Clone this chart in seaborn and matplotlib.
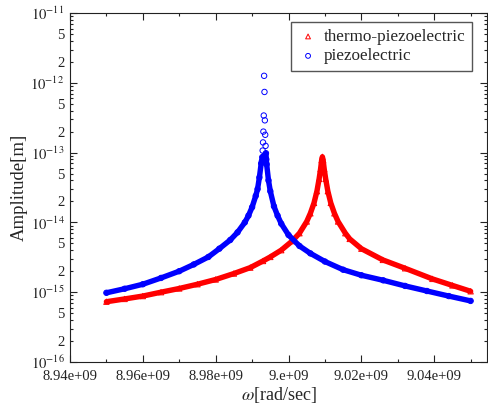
import numpy as np
import pandas as pd
import matplotlib
matplotlib.use("Agg")
import matplotlib.pyplot as plt
import matplotlib.ticker as mticker
import seaborn as sns

# ──────────────────────────────────────────────
# Data
# frequency in units of 1e9 rad/sec, amplitude in m
# ──────────────────────────────────────────────
piezo_omega = [
    8.950, 8.955, 8.960, 8.965, 8.970, 8.974, 8.978, 8.981, 8.984, 8.986,
    8.988, 8.989, 8.990, 8.991, 8.9915, 8.992, 8.9925, 8.9927, 8.9928, 8.9929,
    8.9930, 8.9931, 8.9932, 8.9933, 8.9934, 8.9935, 8.9936, 8.9937, 8.9938, 8.9939,
    8.9940, 8.9945, 8.9950, 8.9960, 8.9970, 8.9980, 9.0000, 9.0030, 9.0060, 9.0100,
    9.0150, 9.0200, 9.0260, 9.0320, 9.0380, 9.0440, 9.0500,
]
piezo_amp = [
    0.98e-15, 1.12e-15, 1.30e-15, 1.60e-15, 2.0e-15, 2.5e-15, 3.2e-15, 4.2e-15, 5.6e-15, 7.2e-15,
    1.0e-14, 1.25e-14, 1.65e-14, 2.4e-14, 3.0e-14, 4.4e-14, 7.0e-14, 7.6e-14, 8.6e-14, 1.07e-13,
    1.40e-13, 2.0e-13, 3.4e-13, 1.26e-12, 7.4e-13, 2.9e-13, 1.8e-13, 1.25e-13, 9.8e-14, 8.0e-14,
    6.8e-14, 4.0e-14, 2.8e-14, 1.7e-14, 1.25e-14, 9.6e-15, 6.6e-15, 4.6e-15, 3.6e-15, 2.75e-15,
    2.1e-15, 1.75e-15, 1.48e-15, 1.23e-15, 1.04e-15, 0.88e-15, 0.75e-15,
]

thermo_omega = [
    8.950, 8.955, 8.960, 8.965, 8.970, 8.975, 8.980, 8.985, 8.9895, 8.993,
    8.995, 8.998, 9.001, 9.003, 9.005, 9.006, 9.007, 9.0078, 9.0084, 9.0088,
    9.0091, 9.0093, 9.0095, 9.0098, 9.0102, 9.0108, 9.0116, 9.0126, 9.0136, 9.0156,
    9.0168, 9.0200, 9.0259, 9.0320, 9.0395, 9.0450, 9.0500,
]
thermo_amp = [
    0.73e-15, 0.80e-15, 0.88e-15, 1.0e-15, 1.13e-15, 1.3e-15, 1.52e-15, 1.85e-15, 2.25e-15, 2.8e-15,
    3.2e-15, 4.0e-15, 5.4e-15, 7.0e-15, 1.03e-14, 1.35e-14, 1.9e-14, 2.8e-14, 4.2e-14, 5.8e-14,
    7.8e-14, 8.7e-14, 7.8e-14, 5.8e-14, 4.2e-14, 2.8e-14, 1.9e-14, 1.35e-14, 1.03e-14, 7.0e-15,
    5.8e-15, 4.2e-15, 2.9e-15, 2.2e-15, 1.55e-15, 1.25e-15, 1.03e-15,
]

xtick_values = [8.94e9, 8.96e9, 8.98e9, 9.00e9, 9.02e9, 9.04e9]
xtick_labels = ["8.94e+09", "8.96e+09", "8.98e+09", "9.e+09", "9.02e+09", "9.04e+09"]
y_decades = [-16, -15, -14, -13, -12, -11]

# ──────────────────────────────────────────────
# Style
# ──────────────────────────────────────────────
sns.set_style("ticks")
plt.rcParams["font.family"] = ["Liberation Serif", "DejaVu Serif"]
plt.rcParams["mathtext.fontset"] = "stix"
plt.rcParams["axes.edgecolor"] = "#222222"
plt.rcParams["axes.linewidth"] = 0.8

piezo = pd.DataFrame({"omega": np.array(piezo_omega) * 1e9, "amp": piezo_amp})
thermo = pd.DataFrame({"omega": np.array(thermo_omega) * 1e9, "amp": thermo_amp})

fig, ax = plt.subplots(figsize=(4.88, 4.07), dpi=100)
fig.subplots_adjust(left=0.1434, right=0.998, bottom=0.1106, top=0.968)
ax.set_yscale("log")

# dense band drawn as thick line, markers on top
band_cut = 1.0e-13
sns.lineplot(data=thermo[thermo.amp < band_cut], x="omega", y="amp", color="red",
             lw=3.9, estimator=None, sort=False, ax=ax, zorder=2)
sns.scatterplot(data=thermo, x="omega", y="amp", marker="^", s=15,
                facecolor="none", edgecolor="red", linewidth=0.7,
                label="thermo-piezoelectric", ax=ax, zorder=2.1)
sns.lineplot(data=piezo[piezo.amp < band_cut], x="omega", y="amp", color="blue",
             lw=3.9, estimator=None, sort=False, ax=ax, zorder=3)
sns.scatterplot(data=piezo, x="omega", y="amp", marker="o", s=15,
                facecolor="none", edgecolor="blue", linewidth=0.7,
                label="piezoelectric", ax=ax, zorder=3.1)

ax.set_xlim(8.94e9, 9.0545e9)
ax.set_ylim(1e-16, 1e-11)

# x ticks
ax.set_xticks(xtick_values, labels=xtick_labels)
ax.xaxis.set_minor_locator(mticker.MultipleLocator(0.01e9))

# y ticks: decades plus labelled 2 and 5
ax.yaxis.set_major_locator(mticker.FixedLocator([10.0 ** d for d in y_decades]))
ax.yaxis.set_major_formatter(mticker.FuncFormatter(
    lambda v, p: rf"$10^{{{int(round(np.log10(v)))}}}$"))
minor_pos = [m * 10.0 ** d for d in y_decades[:-1] for m in range(2, 10)]
ax.yaxis.set_minor_locator(mticker.FixedLocator(minor_pos))


def _minor_label(v, pos):
    m = round(v / 10.0 ** np.floor(np.log10(v) + 1e-9))
    return str(m) if m in (2, 5) else ""


ax.yaxis.set_minor_formatter(mticker.FuncFormatter(_minor_label))

ax.tick_params(which="both", direction="in", top=True, right=True,
               labelsize=10.5, colors="#222222", width=0.8)
ax.tick_params(which="major", length=5)
ax.tick_params(which="minor", length=2.5)
ax.tick_params(axis="x", which="both", pad=6)
ax.tick_params(axis="y", which="both", pad=4)
for s in ax.spines.values():
    s.set_visible(True)

ax.set_xlabel(r"$\omega$[rad/sec]", fontsize=13, labelpad=1)
ax.set_ylabel("Amplitude[m]", fontsize=13.5, labelpad=2)

ax.legend(loc="upper right", bbox_to_anchor=(0.964, 0.974), borderaxespad=0,
          fancybox=False, edgecolor="#555555", framealpha=1, fontsize=12.3,
          handletextpad=0.3, markerscale=0.9, borderpad=0.4, labelspacing=0.2,
          handlelength=1.2)

fig.savefig("out.png", dpi=100)
